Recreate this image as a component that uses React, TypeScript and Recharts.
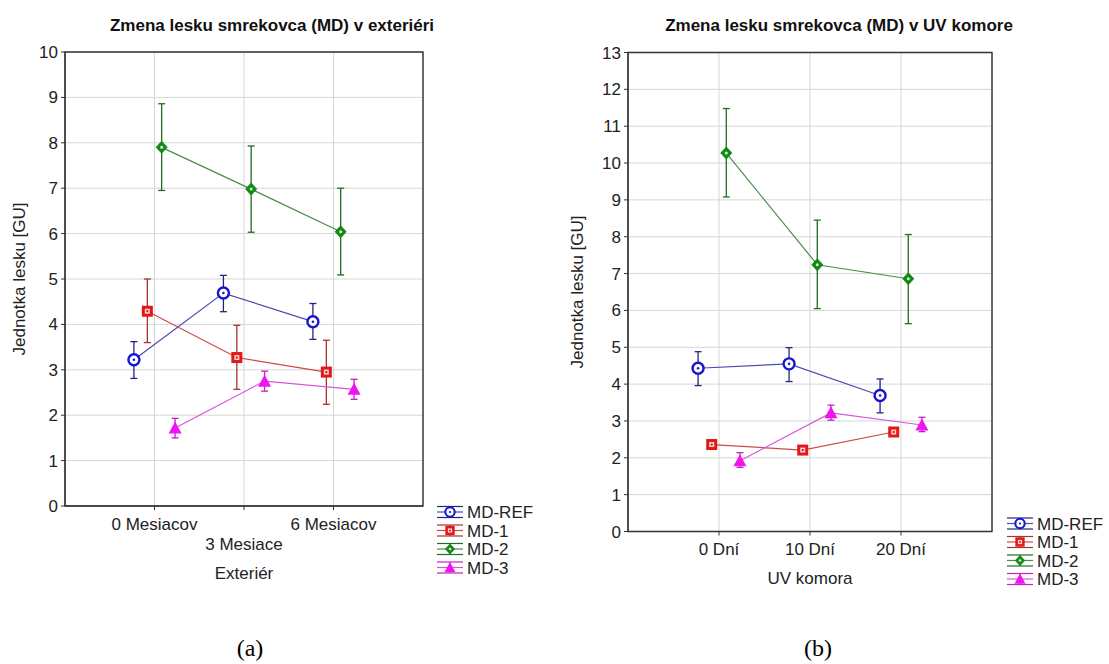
import {
  ScatterChart,
  Scatter,
  XAxis,
  YAxis,
  CartesianGrid,
  ErrorBar,
  ReferenceArea,
  Label,
} from "recharts";

const FONT = "'Liberation Sans', Arial, sans-serif";

// series
const seriesNames = ["MD-REF", "MD-1", "MD-2", "MD-3"];
const seriesShapes = ["circle", "square", "diamond", "triangle"];
// small horizontal jitter of each group (category units)
const seriesOffset = [-0.23, -0.08, 0.08, 0.23];

// (a) exterior
const extCategories = ["0 Mesiacov", "3 Mesiace", "6 Mesiacov"];
const extRef = [3.22, 4.69, 4.06];
const extRefLow = [2.81, 4.28, 3.67];
const extRefHigh = [3.62, 5.08, 4.46];
const extMd1 = [4.29, 3.27, 2.95];
const extMd1Low = [3.6, 2.57, 2.24];
const extMd1High = [5.0, 3.98, 3.65];
const extMd2 = [7.9, 6.98, 6.04];
const extMd2Low = [6.95, 6.03, 5.09];
const extMd2High = [8.86, 7.93, 7.0];
const extMd3 = [1.72, 2.75, 2.57];
const extMd3Low = [1.5, 2.53, 2.35];
const extMd3High = [1.93, 2.97, 2.79];

// (b) UV chamber
const uvCategories = ["0 Dní", "10 Dní", "20 Dní"];
const uvRef = [4.43, 4.55, 3.69];
const uvRefLow = [3.96, 4.07, 3.22];
const uvRefHigh = [4.88, 4.99, 4.14];
const uvMd1 = [2.36, 2.21, 2.7];
const uvMd1Low = [2.27, 2.13, 2.61];
const uvMd1High = [2.45, 2.29, 2.79];
const uvMd2 = [10.27, 7.24, 6.86];
const uvMd2Low = [9.08, 6.05, 5.64];
const uvMd2High = [11.48, 8.45, 8.06];
const uvMd3 = [1.92, 3.22, 2.89];
const uvMd3Low = [1.74, 3.02, 2.71];
const uvMd3High = [2.14, 3.43, 3.1];

const markerColors = ["#1414d2", "#e01818", "#138a13", "#f014f0"];
const lineColors = ["#4a4ab4", "#cc4a4a", "#4a8c4a", "#d855d8"];
const errColors = ["#24247e", "#a83232", "#236b23", "#c41fc4"];

type Pt = { x: number; y: number; err: [number, number] };

function buildPoints(means: number[], lows: number[], highs: number[], s: number): Pt[] {
  return means.map((m, i) => ({
    x: i + seriesOffset[s],
    y: m,
    err: [m - lows[i], highs[i] - m],
  }));
}

interface MarkerProps {
  cx?: number;
  cy?: number;
  kind: string;
  color: string;
  k?: number;
}

function Marker({ cx, cy, kind, color, k = 1 }: MarkerProps) {
  if (cx == null || cy == null) return null;
  if (kind === "circle") {
    return (
      <g>
        <circle cx={cx} cy={cy} r={5.5 * k} fill="#fff" stroke={color} strokeWidth={2.4 * k} />
        <circle cx={cx} cy={cy} r={1.3 * k} fill={color} />
      </g>
    );
  }
  if (kind === "square") {
    return (
      <g>
        <rect x={cx - 5.5 * k} y={cy - 5.5 * k} width={11 * k} height={11 * k} fill={color} />
        <rect x={cx - 2.5 * k} y={cy - 2.5 * k} width={5 * k} height={5 * k} fill="#fbd0d0" />
        <rect x={cx - 1 * k} y={cy - 1 * k} width={2 * k} height={2 * k} fill={color} />
      </g>
    );
  }
  if (kind === "diamond") {
    return (
      <g>
        <polygon
          points={`${cx},${cy - 6.5 * k} ${cx + 6 * k},${cy} ${cx},${cy + 6.5 * k} ${cx - 6 * k},${cy}`}
          fill={color}
        />
        <circle cx={cx} cy={cy} r={1.5 * k} fill="#d8f0d8" />
      </g>
    );
  }
  return (
    <polygon
      points={`${cx},${cy - 6.5 * k} ${cx + 6.5 * k},${cy + 5.5 * k} ${cx - 6.5 * k},${cy + 5.5 * k}`}
      fill={color}
    />
  );
}

function CategoryTick(props: any) {
  const { x, y, payload, labels, stagger } = props;
  const i = payload.value as number;
  const dy = stagger && i === 1 ? 38 : 17.5;
  return (
    <text x={x} y={y + dy} textAnchor="middle" fill="#222" fontSize={17} fontFamily={FONT}>
      {labels[i]}
    </text>
  );
}

interface PanelProps {
  width: number;
  height: number;
  plotLeft: number;
  plotRight: number;
  plotTop: number;
  plotBottom: number;
  yMax: number;
  categories: string[];
  stagger: boolean;
  xTitle: string;
  xTitleDy: number;
  yTitleDx: number;
  means: number[][];
  lows: number[][];
  highs: number[][];
}

function Panel(p: PanelProps) {
  const yTicks = Array.from({ length: p.yMax + 1 }, (_, i) => i);
  const margin = {
    top: p.plotTop,
    left: 0,
    right: p.width - p.plotRight - 6,
    bottom: p.height - p.plotBottom - 80,
  };
  return (
    <ScatterChart width={p.width} height={p.height} margin={margin}>
      <CartesianGrid stroke="#d6d6d6" />
      <XAxis
        dataKey="x"
        type="number"
        domain={[-1, 3]}
        ticks={[0, 1, 2]}
        interval={0}
        height={80}
        tickSize={4}
        tickMargin={2}
        stroke="#333"
        tick={<CategoryTick labels={p.categories} stagger={p.stagger} />}
      >
        <Label
          content={(lp: any) => {
            const vb = lp.viewBox;
            if (!vb) return null;
            return (
              <text
                x={vb.x + vb.width / 2}
                y={vb.y + p.xTitleDy}
                textAnchor="middle"
                fill="#222"
                fontSize={17}
                fontFamily={FONT}
              >
                {p.xTitle}
              </text>
            );
          }}
        />
      </XAxis>
      <YAxis
        dataKey="y"
        type="number"
        domain={[0, p.yMax]}
        ticks={yTicks}
        interval={0}
        width={p.plotLeft}
        tickSize={4}
        tickMargin={3}
        stroke="#333"
        tick={{ fill: "#222", fontSize: 17, fontFamily: FONT }}
      >
        <Label
          content={(lp: any) => {
            const vb = lp.viewBox;
            if (!vb) return null;
            const cx = vb.x + p.yTitleDx;
            const cy = vb.y + vb.height / 2;
            return (
              <text
                x={cx}
                y={cy}
                transform={`rotate(-90, ${cx}, ${cy})`}
                textAnchor="middle"
                dominantBaseline="central"
                fill="#222"
                fontSize={17}
                fontFamily={FONT}
              >
                Jednotka lesku [GU]
              </text>
            );
          }}
        />
      </YAxis>
      <YAxis
        yAxisId="r"
        orientation="right"
        type="number"
        domain={[0, p.yMax]}
        ticks={yTicks}
        interval={0}
        width={6}
        tickSize={4}
        tick={false}
        axisLine={false}
        stroke="#444"
      />
      <ReferenceArea x1={-1} x2={3} y1={0} y2={p.yMax} fill="none" stroke="#333" strokeWidth={1.4} />
      {seriesNames.map((name, s) => (
        <Scatter
          key={name}
          name={name}
          data={buildPoints(p.means[s], p.lows[s], p.highs[s], s)}
          line={{ stroke: lineColors[s], strokeWidth: 1.2 }}
          lineType="joint"
          shape={(q: any) => (
            <Marker cx={q.cx} cy={q.cy} kind={seriesShapes[s]} color={markerColors[s]} />
          )}
          isAnimationActive={false}
        >
          <ErrorBar dataKey="err" direction="y" width={3.5} stroke={errColors[s]} strokeWidth={1.3} />
        </Scatter>
      ))}
    </ScatterChart>
  );
}

function LegendBlock({ x, y }: { x: number; y: number }) {
  return (
    <g>
      {seriesNames.map((name, s) => {
        const yc = y + s * 18.5;
        return (
          <g key={name}>
            <line x1={x} x2={x + 26} y1={yc - 5.5} y2={yc - 5.5} stroke={errColors[s]} strokeWidth={1.2} />
            <line x1={x} x2={x + 26} y1={yc} y2={yc} stroke={lineColors[s]} strokeWidth={1.2} />
            <line x1={x} x2={x + 26} y1={yc + 5.5} y2={yc + 5.5} stroke={errColors[s]} strokeWidth={1.2} />
            <line x1={x + 13} x2={x + 13} y1={yc - 5.5} y2={yc + 5.5} stroke={errColors[s]} strokeWidth={1.2} />
            <Marker cx={x + 13} cy={yc} kind={seriesShapes[s]} color={markerColors[s]} k={0.85} />
            <text x={x + 30} y={yc + 6} fill="#222" fontSize={17} fontFamily={FONT}>
              {name}
            </text>
          </g>
        );
      })}
    </g>
  );
}

export default function App() {
  return (
    <div style={{ position: "absolute", left: 0, top: 0, width: 1109, height: 664, background: "#fff" }}>
      <div style={{ position: "absolute", left: 0, top: 0 }}>
        <Panel
          width={555}
          height={620}
          plotLeft={65}
          plotRight={423}
          plotTop={52}
          plotBottom={506}
          yMax={10}
          categories={extCategories}
          stagger={true}
          xTitle="Exteriér"
          xTitleDy={73}
          yTitleDx={19}
          means={[extRef, extMd1, extMd2, extMd3]}
          lows={[extRefLow, extMd1Low, extMd2Low, extMd3Low]}
          highs={[extRefHigh, extMd1High, extMd2High, extMd3High]}
        />
      </div>
      <div style={{ position: "absolute", left: 560, top: 0 }}>
        <Panel
          width={549}
          height={620}
          plotLeft={68}
          plotRight={432}
          plotTop={52.5}
          plotBottom={531.5}
          yMax={13}
          categories={uvCategories}
          stagger={false}
          xTitle="UV komora"
          xTitleDy={52}
          yTitleDx={17}
          means={[uvRef, uvMd1, uvMd2, uvMd3]}
          lows={[uvRefLow, uvMd1Low, uvMd2Low, uvMd3Low]}
          highs={[uvRefHigh, uvMd1High, uvMd2High, uvMd3High]}
        />
      </div>
      <svg
        width={1109}
        height={664}
        style={{ position: "absolute", left: 0, top: 0, pointerEvents: "none" }}
      >
        <text x={272} y={31} textAnchor="middle" fontSize={17} fontWeight="bold" fill="#111" fontFamily={FONT}>
          Zmena lesku smrekovca (MD) v exteriéri
        </text>
        <text x={839} y={31} textAnchor="middle" fontSize={17} fontWeight="bold" fill="#111" fontFamily={FONT}>
          Zmena lesku smrekovca (MD) v UV komore
        </text>
        <LegendBlock x={437} y={512} />
        <LegendBlock x={1007} y={523.5} />
        <text x={250} y={656} textAnchor="middle" fontSize={24} fill="#000" fontFamily="'Liberation Serif', 'Times New Roman', serif">
          (a)
        </text>
        <text x={818} y={656} textAnchor="middle" fontSize={24} fill="#000" fontFamily="'Liberation Serif', 'Times New Roman', serif">
          (b)
        </text>
      </svg>
    </div>
  );
}
